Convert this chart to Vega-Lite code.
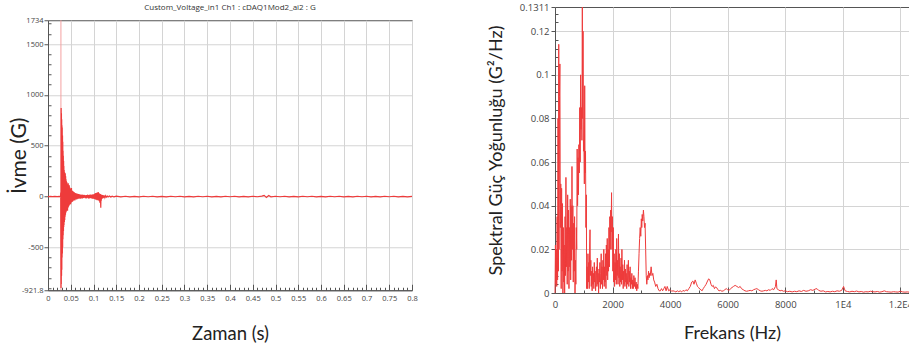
{
 "$schema": "https://vega.github.io/schema/vega-lite/v6.json",
 "padding": {"left": 7, "top": 1, "right": 0, "bottom": 0},
 "background": "white",
 "spacing": 68,
 "center": true,
 "config": {
  "view": {"stroke": "#555", "strokeWidth": 1},
  "axis": {"domainColor": "#555", "tickColor": "#555", "labelColor": "#444", "labelFont": "Open Sans", "titleFont": "Lato", "titleFontWeight": "normal", "titleColor": "#222", "gridColor": "#d4d4d4", "labelOverlap": false, "labelFlush": false}
 },
 "datasets": {
  "spike": [{"t": 0.0284, "lo": -921.8, "hi": 1734}],
  "signal": [
   {"t":0,"v":0},{"t":0.005,"v":1},{"t":0.01,"v":-1},{"t":0.015,"v":1},{"t":0.02,"v":-1},{"t":0.025,"v":1},{"t":0.0275,"v":-2},{"t":0.028,"v":40},
   {"t":0.0286,"v":-900},{"t":0.0289,"v":871},{"t":0.0292,"v":-860},{"t":0.0295,"v":820},{"t":0.0298,"v":-780},{"t":0.0301,"v":760},{"t":0.0304,"v":-720},{"t":0.0307,"v":700},{"t":0.031,"v":-600},{"t":0.0313,"v":680},{"t":0.0316,"v":-560},{"t":0.0319,"v":600},{"t":0.0322,"v":-500},{"t":0.0325,"v":540},{"t":0.0328,"v":-420},{"t":0.0331,"v":450},{"t":0.0334,"v":-380},{"t":0.0337,"v":400},{"t":0.034,"v":-340},{"t":0.0343,"v":350},{"t":0.0346,"v":-300},{"t":0.0349,"v":300},{"t":0.0352,"v":-280},{"t":0.0356,"v":260},{"t":0.036,"v":-250},{"t":0.0364,"v":240},{"t":0.0368,"v":-230},{"t":0.0372,"v":220},{"t":0.0376,"v":-200},{"t":0.038,"v":230},{"t":0.0384,"v":-180},{"t":0.0388,"v":200},{"t":0.0392,"v":-160},{"t":0.0396,"v":170},{"t":0.04,"v":-150},{"t":0.0405,"v":150},{"t":0.041,"v":-140},{"t":0.0415,"v":140},{"t":0.042,"v":-130},{"t":0.0425,"v":120},{"t":0.043,"v":-140},{"t":0.0435,"v":110},{"t":0.044,"v":-110},{"t":0.0445,"v":130},{"t":0.045,"v":-100},{"t":0.0456,"v":100},{"t":0.0462,"v":-90},{"t":0.0468,"v":110},{"t":0.0474,"v":-80},{"t":0.048,"v":90},{"t":0.0486,"v":-70},{"t":0.0492,"v":80},{"t":0.0498,"v":-75},{"t":0.0504,"v":70},{"t":0.051,"v":-60},{"t":0.0516,"v":85},{"t":0.0522,"v":-55},{"t":0.0528,"v":60},{"t":0.0534,"v":-50},{"t":0.054,"v":55},{"t":0.0547,"v":-45},{"t":0.0554,"v":50},{"t":0.0561,"v":-40},{"t":0.0568,"v":45},{"t":0.0575,"v":-35},{"t":0.0582,"v":40},{"t":0.059,"v":-38},{"t":0.0598,"v":35},{"t":0.0606,"v":-30},{"t":0.0614,"v":32},{"t":0.0622,"v":-28},{"t":0.063,"v":30},{"t":0.064,"v":-25},{"t":0.065,"v":28},{"t":0.066,"v":-22},{"t":0.067,"v":25},{"t":0.068,"v":-20},{"t":0.069,"v":22},{"t":0.07,"v":-18},{"t":0.071,"v":20},{"t":0.072,"v":-20},{"t":0.073,"v":18},{"t":0.074,"v":-15},{"t":0.075,"v":20},{"t":0.076,"v":-18},{"t":0.077,"v":15},{"t":0.078,"v":-14},{"t":0.079,"v":16},{"t":0.08,"v":-12},{"t":0.081,"v":14},{"t":0.082,"v":-15},{"t":0.083,"v":12},{"t":0.084,"v":-18},{"t":0.085,"v":15},{"t":0.086,"v":-12},{"t":0.087,"v":18},{"t":0.088,"v":-15},{"t":0.089,"v":14},{"t":0.09,"v":-20},{"t":0.091,"v":16},{"t":0.092,"v":-14},{"t":0.093,"v":20},{"t":0.094,"v":-16},{"t":0.095,"v":15},{"t":0.096,"v":-18},{"t":0.097,"v":22},{"t":0.098,"v":-20},{"t":0.099,"v":18},{"t":0.1,"v":-22},{"t":0.101,"v":25},{"t":0.102,"v":-24},{"t":0.103,"v":30},{"t":0.104,"v":-28},{"t":0.105,"v":35},{"t":0.106,"v":-30},{"t":0.107,"v":38},{"t":0.108,"v":-35},{"t":0.109,"v":40},{"t":0.11,"v":-32},{"t":0.1105,"v":45},{"t":0.111,"v":-40},{"t":0.1115,"v":35},{"t":0.112,"v":-30},{"t":0.1125,"v":30},{"t":0.113,"v":-45},{"t":0.1135,"v":28},{"t":0.114,"v":-60},{"t":0.115,"v":25},{"t":0.116,"v":-110},{"t":0.1165,"v":20},{"t":0.117,"v":-40},{"t":0.118,"v":18},{"t":0.119,"v":-20},{"t":0.12,"v":15},{"t":0.121,"v":-15},{"t":0.122,"v":12},{"t":0.123,"v":-10},{"t":0.124,"v":10},{"t":0.125,"v":-8},{"t":0.126,"v":8},{"t":0.128,"v":-6},{"t":0.13,"v":6},{"t":0.132,"v":-5},{"t":0.135,"v":5},{"t":0.138,"v":-4},{"t":0.141,"v":4},{"t":0.145,"v":-4},
   {"t":0.15,"v":3},{"t":0.16,"v":-3},{"t":0.17,"v":3},{"t":0.18,"v":-3},{"t":0.19,"v":2},{"t":0.2,"v":-3},{"t":0.21,"v":3},{"t":0.22,"v":-2},{"t":0.23,"v":3},{"t":0.24,"v":-3},{"t":0.25,"v":2},{"t":0.26,"v":-3},{"t":0.27,"v":3},{"t":0.28,"v":-2},{"t":0.29,"v":3},{"t":0.3,"v":-3},{"t":0.31,"v":2},{"t":0.32,"v":-3},{"t":0.33,"v":3},{"t":0.34,"v":-2},{"t":0.35,"v":3},{"t":0.36,"v":-3},{"t":0.37,"v":2},{"t":0.38,"v":-3},{"t":0.39,"v":3},{"t":0.4,"v":-2},{"t":0.41,"v":3},{"t":0.42,"v":-3},{"t":0.43,"v":2},{"t":0.44,"v":-3},{"t":0.45,"v":3},{"t":0.46,"v":-2},{"t":0.47,"v":4},{"t":0.475,"v":12},{"t":0.48,"v":-8},{"t":0.485,"v":10},{"t":0.49,"v":-3},{"t":0.5,"v":3},{"t":0.51,"v":-2},{"t":0.52,"v":3},{"t":0.53,"v":-3},{"t":0.54,"v":2},{"t":0.55,"v":-3},{"t":0.56,"v":3},{"t":0.57,"v":-2},{"t":0.58,"v":3},{"t":0.59,"v":-3},{"t":0.6,"v":2},{"t":0.61,"v":-3},{"t":0.62,"v":3},{"t":0.63,"v":-2},{"t":0.64,"v":3},{"t":0.65,"v":-3},{"t":0.66,"v":2},{"t":0.67,"v":-3},{"t":0.68,"v":3},{"t":0.69,"v":-2},{"t":0.7,"v":3},{"t":0.71,"v":-3},{"t":0.72,"v":2},{"t":0.73,"v":-3},{"t":0.74,"v":3},{"t":0.75,"v":-2},{"t":0.76,"v":3},{"t":0.77,"v":-3},{"t":0.78,"v":2},{"t":0.79,"v":-3},{"t":0.8,"v":2}
  ],
  "psd": [
   {"f":0,"p":0},{"f":15,"p":0.022},{"f":30,"p":0.004},{"f":45,"p":0.02},{"f":60,"p":0.003},{"f":75,"p":0.035},{"f":90,"p":0.006},{"f":105,"p":0.08},{"f":120,"p":0.01},{"f":130,"p":0.114},{"f":140,"p":0.02},{"f":155,"p":0.09},{"f":170,"p":0.105},{"f":185,"p":0.03},{"f":200,"p":0.05},{"f":215,"p":0.002},{"f":230,"p":0.048},{"f":245,"p":0.01},{"f":260,"p":0.041},{"f":275,"p":0},{"f":290,"p":0.03},{"f":305,"p":0.005},{"f":320,"p":0.022},{"f":335,"p":0},{"f":350,"p":0.035},{"f":365,"p":0.008},{"f":380,"p":0.053},{"f":395,"p":0.012},{"f":410,"p":0.03},{"f":425,"p":0.004},{"f":440,"p":0.045},{"f":455,"p":0.01},{"f":470,"p":0.038},{"f":485,"p":0.002},{"f":500,"p":0.03},{"f":515,"p":0.012},{"f":530,"p":0.043},{"f":545,"p":0.006},{"f":560,"p":0.04},{"f":575,"p":0.015},{"f":590,"p":0.058},{"f":605,"p":0.02},{"f":620,"p":0.04},{"f":635,"p":0.005},{"f":650,"p":0.032},{"f":665,"p":0.01},{"f":680,"p":0.035},{"f":695,"p":0},{"f":710,"p":0.015},{"f":725,"p":0.004},{"f":740,"p":0.03},{"f":755,"p":0.02},{"f":770,"p":0.066},{"f":785,"p":0.04},{"f":800,"p":0.062},{"f":815,"p":0.045},{"f":830,"p":0.068},{"f":845,"p":0.055},{"f":860,"p":0.085},{"f":875,"p":0.06},{"f":890,"p":0.1},{"f":905,"p":0.075},{"f":920,"p":0.085},{"f":935,"p":0.07},{"f":950,"p":0.1311},{"f":962,"p":0.08},{"f":975,"p":0.12},{"f":990,"p":0.065},{"f":1005,"p":0.07},{"f":1020,"p":0.05},{"f":1032,"p":0.095},{"f":1045,"p":0.055},{"f":1060,"p":0.065},{"f":1075,"p":0.03},{"f":1090,"p":0.045},{"f":1100,"p":0.002},{"f":1115,"p":0.012},{"f":1130,"p":0.002},{"f":1145,"p":0.018},{"f":1160,"p":0.005},{"f":1175,"p":0.014},{"f":1190,"p":0.002},{"f":1205,"p":0.022},{"f":1217,"p":0.029},{"f":1230,"p":0.008},{"f":1245,"p":0.015},{"f":1260,"p":0.003},{"f":1275,"p":0.01},{"f":1290,"p":0.001},{"f":1305,"p":0.012},{"f":1320,"p":0.004},{"f":1335,"p":0.009},{"f":1350,"p":0.002},{"f":1365,"p":0.014},{"f":1380,"p":0.005},{"f":1395,"p":0.01},{"f":1410,"p":0.001},{"f":1425,"p":0.008},{"f":1440,"p":0.012},{"f":1455,"p":0.003},{"f":1470,"p":0.016},{"f":1485,"p":0.004},{"f":1500,"p":0.009},{"f":1515,"p":0},{"f":1530,"p":0.011},{"f":1545,"p":0.005},{"f":1560,"p":0.014},{"f":1575,"p":0.002},{"f":1590,"p":0.009},{"f":1605,"p":0.018},{"f":1620,"p":0.004},{"f":1635,"p":0.012},{"f":1650,"p":0.002},{"f":1665,"p":0.015},{"f":1680,"p":0.006},{"f":1695,"p":0.02},{"f":1710,"p":0.003},{"f":1725,"p":0.012},{"f":1740,"p":0.005},{"f":1755,"p":0.018},{"f":1770,"p":0.002},{"f":1785,"p":0.022},{"f":1800,"p":0.008},{"f":1815,"p":0.025},{"f":1830,"p":0.006},{"f":1845,"p":0.02},{"f":1860,"p":0.01},{"f":1875,"p":0.03},{"f":1890,"p":0.012},{"f":1905,"p":0.035},{"f":1920,"p":0.02},{"f":1935,"p":0.038},{"f":1950,"p":0.028},{"f":1965,"p":0.046},{"f":1980,"p":0.02},{"f":1995,"p":0.035},{"f":2010,"p":0.01},{"f":2025,"p":0.03},{"f":2040,"p":0.005},{"f":2055,"p":0.018},{"f":2070,"p":0.003},{"f":2085,"p":0.014},{"f":2100,"p":0.006},{"f":2115,"p":0.02},{"f":2130,"p":0.004},{"f":2145,"p":0.025},{"f":2160,"p":0.008},{"f":2175,"p":0.015},{"f":2190,"p":0.004},{"f":2205,"p":0.027},{"f":2220,"p":0.007},{"f":2235,"p":0.018},{"f":2250,"p":0.003},{"f":2265,"p":0.012},{"f":2280,"p":0.005},{"f":2295,"p":0.016},{"f":2310,"p":0.004},{"f":2325,"p":0.02},{"f":2340,"p":0.006},{"f":2355,"p":0.013},{"f":2370,"p":0.002},{"f":2385,"p":0.01},{"f":2400,"p":0.004},{"f":2415,"p":0.015},{"f":2430,"p":0.003},{"f":2445,"p":0.011},{"f":2460,"p":0.005},{"f":2475,"p":0.009},{"f":2490,"p":0.002},{"f":2505,"p":0.013},{"f":2520,"p":0.004},{"f":2535,"p":0.008},{"f":2550,"p":0.015},{"f":2565,"p":0.003},{"f":2580,"p":0.01},{"f":2595,"p":0.005},{"f":2610,"p":0.012},{"f":2625,"p":0.002},{"f":2640,"p":0.007},{"f":2655,"p":0.004},{"f":2670,"p":0.009},{"f":2685,"p":0.002},{"f":2700,"p":0.006},{"f":2720,"p":0.002},{"f":2740,"p":0.008},{"f":2760,"p":0.003},{"f":2780,"p":0.007},{"f":2800,"p":0.002},{"f":2820,"p":0.005},{"f":2840,"p":0.001},{"f":2860,"p":0.004},{"f":2880,"p":0.002},{"f":2900,"p":0.01},{"f":2920,"p":0.018},{"f":2940,"p":0.025},{"f":2960,"p":0.03},{"f":2980,"p":0.026},{"f":3000,"p":0.034},{"f":3015,"p":0.03},{"f":3030,"p":0.036},{"f":3050,"p":0.033},{"f":3072,"p":0.038},{"f":3090,"p":0.035},{"f":3110,"p":0.03},{"f":3130,"p":0.032},{"f":3150,"p":0.02},{"f":3170,"p":0.008},{"f":3190,"p":0.004},{"f":3210,"p":0.008},{"f":3230,"p":0.006},{"f":3250,"p":0.01},{"f":3270,"p":0.007},{"f":3290,"p":0.009},{"f":3310,"p":0.008},{"f":3340,"p":0.012},{"f":3370,"p":0.008},{"f":3400,"p":0.009},{"f":3430,"p":0.006},{"f":3460,"p":0.005},{"f":3500,"p":0.003},{"f":3540,"p":0.004},{"f":3580,"p":0.002},{"f":3620,"p":0.001},{"f":3660,"p":0.001},{"f":3700,"p":0.002},{"f":3740,"p":0.001},{"f":3780,"p":0.002},{"f":3820,"p":0.003},{"f":3860,"p":0.001},{"f":3900,"p":0.003},{"f":3950,"p":0.001},{"f":4000,"p":0.0015},{"f":4050,"p":0.0008},{"f":4100,"p":0.001},{"f":4150,"p":0.0008},{"f":4200,"p":0.0005},{"f":4250,"p":0.001},{"f":4300,"p":0.0006},{"f":4350,"p":0.001},{"f":4400,"p":0.0005},{"f":4450,"p":0.0012},{"f":4500,"p":0.0008},{"f":4550,"p":0.0015},{"f":4600,"p":0.001},{"f":4650,"p":0.002},{"f":4700,"p":0.003},{"f":4750,"p":0.005},{"f":4790,"p":0.0055},{"f":4830,"p":0.004},{"f":4870,"p":0.006},{"f":4910,"p":0.0045},{"f":4950,"p":0.003},{"f":4990,"p":0.0025},{"f":5030,"p":0.0018},{"f":5070,"p":0.0015},{"f":5110,"p":0.001},{"f":5150,"p":0.002},{"f":5200,"p":0.003},{"f":5250,"p":0.004},{"f":5300,"p":0.0055},{"f":5340,"p":0.0065},{"f":5380,"p":0.006},{"f":5420,"p":0.004},{"f":5460,"p":0.003},{"f":5500,"p":0.0035},{"f":5540,"p":0.002},{"f":5580,"p":0.0028},{"f":5620,"p":0.0024},{"f":5660,"p":0.0015},{"f":5700,"p":0.001},{"f":5750,"p":0.0012},{"f":5800,"p":0.0008},{"f":5850,"p":0.001},{"f":5900,"p":0.0015},{"f":5950,"p":0.002},{"f":6000,"p":0.0015},{"f":6050,"p":0.0012},{"f":6100,"p":0.002},{"f":6150,"p":0.0025},{"f":6200,"p":0.003},{"f":6260,"p":0.0035},{"f":6320,"p":0.003},{"f":6380,"p":0.0025},{"f":6434,"p":0.003},{"f":6480,"p":0.002},{"f":6540,"p":0.0015},{"f":6600,"p":0.001},{"f":6660,"p":0.0008},{"f":6720,"p":0.001},{"f":6782,"p":0.0012},{"f":6840,"p":0.001},{"f":6900,"p":0.0015},{"f":6960,"p":0.0018},{"f":7014,"p":0.002},{"f":7070,"p":0.0015},{"f":7130,"p":0.001},{"f":7190,"p":0.0008},{"f":7250,"p":0.001},{"f":7310,"p":0.0012},{"f":7362,"p":0.001},{"f":7420,"p":0.0015},{"f":7480,"p":0.0012},{"f":7540,"p":0.002},{"f":7600,"p":0.0015},{"f":7660,"p":0.003},{"f":7686,"p":0.006},{"f":7710,"p":0.002},{"f":7760,"p":0.0015},{"f":7820,"p":0.001},{"f":7880,"p":0.0012},{"f":7940,"p":0.0008},{"f":8000,"p":0.001},{"f":8080,"p":0.0006},{"f":8160,"p":0.0008},{"f":8240,"p":0.0005},{"f":8320,"p":0.0008},{"f":8400,"p":0.0006},{"f":8480,"p":0.001},{"f":8560,"p":0.0007},{"f":8640,"p":0.0012},{"f":8720,"p":0.0008},{"f":8800,"p":0.001},{"f":8880,"p":0.0015},{"f":8960,"p":0.0012},{"f":9040,"p":0.0018},{"f":9101,"p":0.002},{"f":9160,"p":0.0012},{"f":9240,"p":0.0008},{"f":9320,"p":0.001},{"f":9400,"p":0.0005},{"f":9480,"p":0.0007},{"f":9560,"p":0.0005},{"f":9640,"p":0.0008},{"f":9720,"p":0.0006},{"f":9800,"p":0.001},{"f":9880,"p":0.0008},{"f":9960,"p":0.0012},{"f":10027,"p":0.003},{"f":10080,"p":0.001},{"f":10160,"p":0.0007},{"f":10240,"p":0.0005},{"f":10320,"p":0.0008},{"f":10400,"p":0.0006},{"f":10480,"p":0.0009},{"f":10560,"p":0.0005},{"f":10640,"p":0.0007},{"f":10720,"p":0.0004},{"f":10800,"p":0.0006},{"f":10880,"p":0.0005},{"f":10960,"p":0.0008},{"f":11040,"p":0.0006},{"f":11120,"p":0.0005},{"f":11200,"p":0.0007},{"f":11280,"p":0.0004},{"f":11360,"p":0.0006},{"f":11440,"p":0.001},{"f":11520,"p":0.0006},{"f":11600,"p":0.0005},{"f":11680,"p":0.0004},{"f":11760,"p":0.0006},{"f":11840,"p":0.0005},{"f":11920,"p":0.0004},{"f":12000,"p":0.0008},{"f":12080,"p":0.0005},{"f":12160,"p":0.0004},{"f":12240,"p":0.0005},{"f":12300,"p":0.0004}
  ]
 },
 "hconcat": [
  {
   "width": 364, "height": 270,
   "title": {"text": "Custom_Voltage_in1  Ch1 : cDAQ1Mod2_ai2 : G", "fontSize": 8, "fontWeight": "normal", "font": "Open Sans", "color": "#333", "offset": 4},
   "encoding": {
    "x": {"field": "t", "type": "quantitative", "scale": {"domain": [0, 0.8], "nice": false},
     "axis": {"title": "Zaman (s)", "titleFontSize": 18.5, "titlePadding": 20, "labelFontSize": 7.5, "labelPadding": 10,
      "values": [0,0.01,0.02,0.03,0.04,0.05,0.06,0.07,0.08,0.09,0.1,0.11,0.12,0.13,0.14,0.15,0.16,0.17,0.18,0.19,0.2,0.21,0.22,0.23,0.24,0.25,0.26,0.27,0.28,0.29,0.3,0.31,0.32,0.33,0.34,0.35,0.36,0.37,0.38,0.39,0.4,0.41,0.42,0.43,0.44,0.45,0.46,0.47,0.48,0.49,0.5,0.51,0.52,0.53,0.54,0.55,0.56,0.57,0.58,0.59,0.6,0.61,0.62,0.63,0.64,0.65,0.66,0.67,0.68,0.69,0.7,0.71,0.72,0.73,0.74,0.75,0.76,0.77,0.78,0.79,0.8],
      "labelExpr": "round(datum.value*100) % 5 === 0 ? format(datum.value, '.2~f') : ''",
      "tickSize": {"condition": {"test": "round(datum.value*100) % 5 === 0", "value": -6}, "value": -3},
      "gridOpacity": {"condition": {"test": "round(datum.value*100) % 5 === 0", "value": 1}, "value": 0}
     }
    },
    "y": {"field": "v", "type": "quantitative", "scale": {"domain": [-921.8, 1734], "nice": false, "zero": false},
     "axis": {"title": "İvme (G)", "titleFontSize": 21, "titlePadding": -8, "labelFontSize": 7.5, "labelPadding": 1,
      "values": [-921.8,-900,-800,-700,-600,-500,-400,-300,-200,-100,0,100,200,300,400,500,600,700,800,900,1000,1100,1200,1300,1400,1500,1600,1700,1734],
      "labelExpr": "(datum.value % 500 === 0 || datum.value === 1734 || datum.value === -921.8) ? ''+datum.value : ''",
      "tickSize": {"condition": {"test": "datum.value % 500 === 0 || datum.value === 1734 || datum.value === -921.8", "value": 4}, "value": -3},
      "gridOpacity": {"condition": {"test": "datum.value % 500 === 0", "value": 1}, "value": 0}
     }
    }
   },
   "layer": [
    {"data": {"name": "spike"}, "mark": {"type": "rule", "color": "#f4a0a0", "strokeWidth": 1}, "encoding": {"y": {"field": "lo", "type": "quantitative"}, "y2": {"field": "hi"}}},
    {"data": {"name": "signal"}, "mark": {"type": "line", "color": "#ee3b3b", "strokeWidth": 1.2}}
   ]
  },
  {
   "width": 354, "height": 286,
   "data": {"name": "psd"},
   "mark": {"type": "line", "color": "#ee3b3b", "strokeWidth": 1},
   "encoding": {
    "x": {"field": "f", "type": "quantitative", "scale": {"domain": [0, 12300], "nice": false},
     "axis": {"title": ["Frekans (Hz)", ""], "titleLineHeight": 14, "titleFontSize": 18, "titlePadding": 13, "labelFontSize": 9.5, "labelPadding": 12,
      "values": [0,1000,2000,3000,4000,5000,6000,7000,8000,9000,10000,11000,12000],
      "labelExpr": "datum.value % 2000 !== 0 ? '' : (datum.value < 10000 ? ''+datum.value : (datum.value/10000)+'E4')",
      "tickSize": {"condition": {"test": "datum.value % 2000 === 0", "value": -6}, "value": -3},
      "gridOpacity": {"condition": {"test": "datum.value % 2000 === 0", "value": 1}, "value": 0}
     }
    },
    "y": {"field": "p", "type": "quantitative", "scale": {"domain": [0, 0.1311], "nice": false},
     "axis": {"title": "Spektral Güç Yoğunluğu (G²/Hz)", "titleFontSize": 18, "titlePadding": 14, "labelFontSize": 9.5, "labelPadding": 2,
      "values": [0,0.004,0.008,0.012,0.016,0.02,0.024,0.028,0.032,0.036,0.04,0.044,0.048,0.052,0.056,0.06,0.064,0.068,0.072,0.076,0.08,0.084,0.088,0.092,0.096,0.1,0.104,0.108,0.112,0.116,0.12,0.124,0.128,0.1311],
      "labelExpr": "(round(datum.value*1000) % 20 === 0 || datum.value === 0.1311) ? ''+datum.value : ''",
      "tickSize": {"condition": {"test": "round(datum.value*1000) % 20 === 0 || datum.value === 0.1311", "value": 4}, "value": -3},
      "gridOpacity": {"condition": {"test": "round(datum.value*1000) % 20 === 0", "value": 1}, "value": 0}
     }
    }
   }
  }
 ]
}
